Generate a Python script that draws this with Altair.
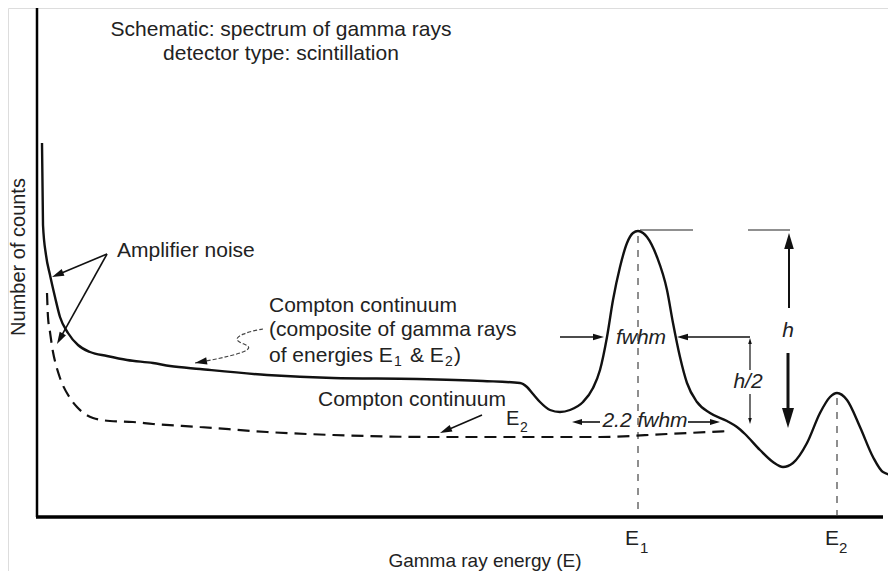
import math
import altair as alt
import pandas as pd

# ---- data (energy E in channel units, counts N in arbitrary units) ----
solid_E = [5, 6, 9, 13, 18, 23, 31, 41, 53, 70, 90, 116, 133, 163, 230, 296, 380, 446,
           483, 490, 496, 503, 513, 523, 533, 546, 556, 563, 570, 576, 583, 590, 596, 601,
           606, 610, 620, 630, 636, 643, 650, 660, 673, 690, 700, 708, 723, 736, 746, 756,
           770, 783, 793, 800, 810, 823, 836, 846, 859]
solid_N = [374, 292, 262, 242, 220, 200, 184, 172, 165, 161, 157, 154, 151, 148, 142, 139, 138, 136,
           134, 130, 123, 115, 107, 105, 107, 115, 129, 147, 180, 217, 250, 274, 284, 286,
           284, 280, 260, 227, 194, 160, 134, 115, 104, 96, 90, 83, 67, 55, 50, 54,
           74, 104, 120, 124, 117, 90, 60, 45, 41]

dashed_E = [10, 11, 13, 16, 19, 23, 33, 40, 48, 56, 73, 96, 116, 163, 230, 296, 396, 500, 563, 630, 693]
dashed_N = [224, 200, 185, 165, 152, 139, 119, 110, 103, 99, 96, 95, 93, 90, 85, 82, 80, 80, 80, 83, 86]

# annotation arrows: start -> tip
arrow_E1 = [70, 70, 445, 752, 751, 523, 713, 713, 713, 563, 651]
arrow_N1 = [263, 263, 102, 209, 164, 180, 180, 147, 123, 95, 95]
arrow_E2 = [15, 20, 403, 752, 751, 567, 640, 713, 713, 535, 683]
arrow_N2 = [240, 173, 84, 284, 89, 180, 180, 179, 93, 95, 95]
arrow_head = [12, 12, 12, 16, 20, 11, 11, 6, 6, 10, 10]
arrow_width = [1.6, 1.6, 1.6, 2.0, 3.0, 1.6, 1.6, 1.2, 1.2, 1.6, 1.6]

# squiggly leader for the composite Compton continuum label
squig_E = [226, 215, 206, 199, 201, 210, 213, 207, 193, 175, 158]
squig_N = [188, 186, 183, 179, 175, 172, 169, 165, 161, 157, 154]

# guide lines
axis_rules = dict(E=[0, -1], N=[512, 0], E2=[0, 846], N2=[0, 0], w=[2.5, 3.5])
peak_lines = dict(E=[601, 800], N=[281, 119], E2=[601, 800], N2=[2, 2])
top_lines = dict(E=[603, 711], N=[287, 287], E2=[656, 753], N2=[287, 287])

texts_center = [
    ("Schematic: spectrum of gamma rays", 244, 487),
    ("detector type: scintillation", 244, 463),
]
texts_left = [
    ("Amplifier noise", 80, 266),
    ("Compton continuum", 232, 211),
    ("(composite of gamma rays", 232, 187),
    ("Compton continuum", 281, 117),
]
# text pieces on a common baseline (subscripts as smaller, lowered pieces)
frag_text = ["of energies E", "1", "& E", "2", ")",
             "E", "2",
             "E", "1", "E", "2",
             "Gamma ray energy (E)"]
frag_E = [232, 357, 373, 408, 417,
          469, 483,
          588, 603, 788, 802,
          448]
frag_N = [155, 151, 155, 151, 155,
          92, 85,
          -28, -36, -28, -36,
          -50]
frag_size = [21, 14, 21, 14, 21,
             20, 14,
             21, 15, 21, 15,
             19]
frag_align_center = [False] * 11 + [True]

texts_italic = [
    ("fwhm", 604, 179),
    ("h", 751, 186),
    ("h/2", 711, 135),
    ("2.2 fwhm", 608, 96),
]
texts_rot = [("Number of counts", -18, 260)]

# ---- build tables ----
W, H = 880, 563
xs = alt.Scale(domain=[-29, 851], nice=False, zero=False)
ys = alt.Scale(domain=[-54, 509], nice=False, zero=False)
X = lambda f: alt.X(f, type="quantitative", scale=xs, axis=None)
Y = lambda f: alt.Y(f, type="quantitative", scale=ys, axis=None)

solid = pd.DataFrame({"E": solid_E, "N": solid_N})
dashed = pd.DataFrame({"E": dashed_E, "N": dashed_N})

rows_line, rows_head = [], []
for e1, n1, e2, n2, L, w in zip(arrow_E1, arrow_N1, arrow_E2, arrow_N2, arrow_head, arrow_width):
    dx, dn = e2 - e1, n2 - n1
    d = math.hypot(dx, dn)
    ux, un = dx / d, dn / d
    rows_line.append({"E": e1, "N": n1, "E2": e2 - ux * L * 0.6, "N2": n2 - un * L * 0.6, "w": w})
    ang = math.degrees(math.atan2(dx, dn)) % 360
    rows_head.append({"E": e2, "N": n2, "angle": ang, "size": (2 * L) ** 2})
dx, dn = squig_E[-1] - squig_E[-2], squig_N[-1] - squig_N[-2]
rows_head.append({"E": squig_E[-1], "N": squig_N[-1],
                  "angle": math.degrees(math.atan2(dx, dn)) % 360, "size": (2 * 12) ** 2})
arrow_lines = pd.DataFrame(rows_line)
heads = pd.DataFrame(rows_head)
squig = pd.DataFrame({"E": squig_E, "N": squig_N, "i": range(len(squig_E))})

frags = pd.DataFrame({"t": frag_text, "E": frag_E, "N": frag_N, "s": frag_size, "c": frag_align_center})

head_path = "M0,0L0.3,1L-0.3,1Z"
FONT = "Liberation Sans"
FS = 21
INK = "#222"

layers = []
layers.append(alt.Chart(pd.DataFrame(axis_rules)).mark_rule(color="black").encode(
    x=X("E"), y=Y("N"), x2="E2", y2="N2", strokeWidth=alt.StrokeWidth("w:Q", scale=None)))
layers.append(alt.Chart(pd.DataFrame(peak_lines)).mark_rule(
    color="#444", strokeWidth=1.2, strokeDash=[7, 7]).encode(x=X("E"), y=Y("N"), x2="E2", y2="N2"))
layers.append(alt.Chart(pd.DataFrame(top_lines)).mark_rule(
    color="#222", strokeWidth=1.2).encode(x=X("E"), y=Y("N"), x2="E2", y2="N2"))
layers.append(alt.Chart(dashed).mark_line(
    color="#111", strokeWidth=2.2, strokeDash=[12, 7], interpolate="monotone").encode(x=X("E"), y=Y("N")))
layers.append(alt.Chart(solid).mark_line(
    color="#111", strokeWidth=2.4, interpolate="monotone").encode(x=X("E"), y=Y("N")))
layers.append(alt.Chart(arrow_lines).mark_rule(color="#111").encode(
    x=X("E"), y=Y("N"), x2="E2", y2="N2", strokeWidth=alt.StrokeWidth("w:Q", scale=None)))
layers.append(alt.Chart(squig).mark_line(
    color="#444", strokeWidth=1.2, strokeDash=[4, 2], interpolate="basis").encode(
    x=X("E"), y=Y("N"), order="i:Q"))
layers.append(alt.Chart(heads).mark_point(
    shape=head_path, filled=True, color="#111", opacity=1, strokeWidth=0).encode(
    x=X("E"), y=Y("N"), angle=alt.Angle("angle:Q", scale=None), size=alt.Size("size:Q", scale=None)))

def tdf(lst):
    return pd.DataFrame(lst, columns=["t", "E", "N"])

layers.append(alt.Chart(tdf(texts_center)).mark_text(
    font=FONT, fontSize=FS, align="center", baseline="middle", color=INK).encode(
    x=X("E"), y=Y("N"), text="t:N"))
layers.append(alt.Chart(tdf(texts_left)).mark_text(
    font=FONT, fontSize=FS, align="left", baseline="middle", color=INK).encode(
    x=X("E"), y=Y("N"), text="t:N"))
layers.append(alt.Chart(frags[~frags["c"]]).mark_text(
    font=FONT, align="left", baseline="alphabetic", color=INK).encode(
    x=X("E"), y=Y("N"), text="t:N", size=alt.Size("s:Q", scale=None)))
layers.append(alt.Chart(frags[frags["c"]]).mark_text(
    font=FONT, align="center", baseline="alphabetic", color=INK).encode(
    x=X("E"), y=Y("N"), text="t:N", size=alt.Size("s:Q", scale=None)))
layers.append(alt.Chart(tdf(texts_italic)).mark_text(
    font=FONT, fontSize=FS, fontStyle="italic", align="center", baseline="middle", color=INK).encode(
    x=X("E"), y=Y("N"), text="t:N"))
layers.append(alt.Chart(tdf(texts_rot)).mark_text(
    font=FONT, fontSize=20, angle=270, align="center", baseline="middle", color=INK).encode(
    x=X("E"), y=Y("N"), text="t:N"))

chart = alt.layer(*layers).properties(
    width=W, height=H, padding=0, autosize=alt.AutoSizeParams(type="none")
).configure_view(stroke=None).configure(background="white")

chart.save("out.html", embed_options={"renderer": "svg", "actions": False})
